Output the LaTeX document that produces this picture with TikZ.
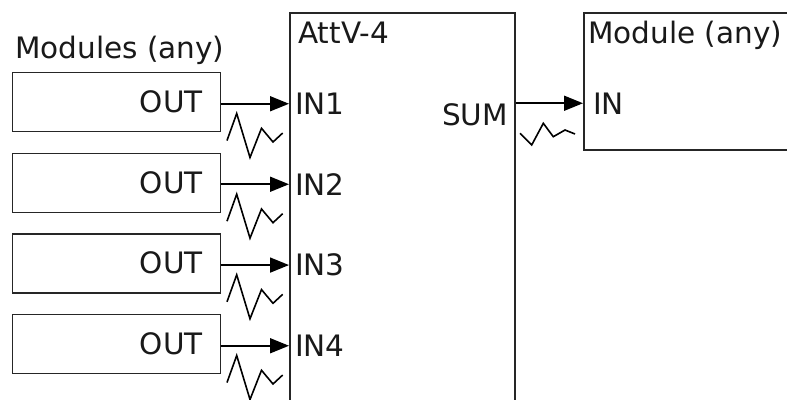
\documentclass[tikz,border=0pt]{standalone}
\usepackage{fontspec}
\setmainfont{DejaVu Sans}
\usetikzlibrary{arrows.meta}
\tikzset{
  modbox/.style={draw=black!85, line width=1.4pt, rectangle, inner sep=0pt, minimum width=208pt, minimum height=59pt},
  blk/.style={draw=black!85, line width=1.6pt, rectangle, inner sep=0pt},
  lbl/.style={inner sep=0pt, font=\fontsize{29.5pt}{35pt}\selectfont, text=black!90},
  sig/.style={line width=1.7pt, -{Triangle[length=19pt,width=15pt]}},
  wave/.style={line width=1.6pt, line join=miter}
}
\begin{document}
\begin{tikzpicture}[x=1pt,y=-1pt]
\useasboundingbox (0,0) rectangle (787,399);
\clip (0,0) rectangle (787,399);
\fill[white] (0,0) rectangle (787,399);
% main blocks
\node[blk, anchor=north west, minimum width=225pt, minimum height=430pt] (att) at (289,12) {};
\node[blk, anchor=north west, minimum width=240pt, minimum height=137pt] (mod) at (583,12) {};
% titles
\node[lbl, anchor=base west] (title1) at (15,58) {Modules (any)};
\node[lbl, anchor=base west] (title2) at (298,43) {AttV-4};
\node[lbl, anchor=base west] (title3) at (588,43) {Module (any)};
% inputs
\foreach \i/\y in {1/103,2/183.7,3/264.3,4/345}{
  \node[modbox, anchor=north west] (m\i) at (12,\y-31) {};
  \node[lbl, anchor=base east] (out\i) at (203,\y+9.5) {OUT};
  \node[lbl, anchor=base west] (in\i) at (295,\y+11.5) {IN\i};
  \draw[sig] (m\i.east |- in\i) -- (att.west |- in\i);
  \draw[wave] (220,\y) ++(7,37.5) -- ++(9.7,-27) -- ++(13.3,44) -- ++(11.5,-29.2) -- ++(11.5,13.7) -- ++(9.7,-9);
}
% output
\node[lbl, anchor=base east] (sum) at (508,125) {SUM};
\node[lbl, anchor=base west] (inm) at (593,114) {IN};
\draw[sig] (att.east |- inm) -- (mod.west |- inm);
\draw[wave] (514,104) ++(6,29.3) -- ++(11.7,11.7) -- ++(11.6,-21.7) -- ++(10,13.4) -- ++(11.7,-6.7) -- ++(10,4);
\end{tikzpicture}
\end{document}
